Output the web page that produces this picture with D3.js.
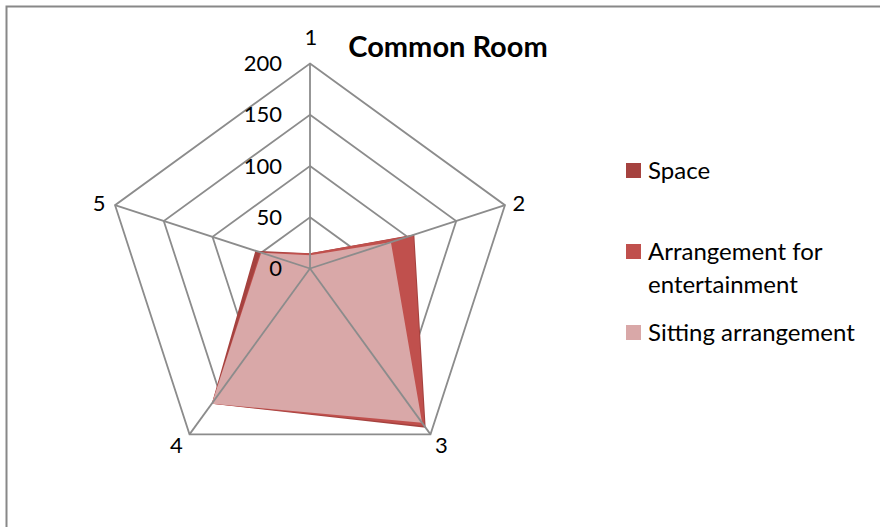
<!DOCTYPE html>
<html><head><meta charset="utf-8">
<script src="https://cdn.jsdelivr.net/npm/d3@7"></script>
<style>body{margin:0;background:#fff}svg{display:block}text{font-family:Lato,"Open Sans",sans-serif}</style>
</head><body><svg id="c" width="880" height="527"></svg>
<script>
const categories = ["1","2","3","4","5"];
const seriesNames = ["Space","Arrangement for entertainment","Sitting arrangement"];
const space = [15, 107, 192, 163, 56];
const entertainment = [15, 106, 190, 163, 51];
const sitting = [13, 83, 186, 163, 50];
const tickValues = [0, 50, 100, 150, 200];
const colors = ["#A5423F", "#C0504D", "#D9A8A8"];

const svg = d3.select("#c");
svg.append("rect").attr("x",6.5).attr("y",6.5).attr("width",900).attr("height",600)
  .attr("fill","#fff").attr("stroke","#888").attr("stroke-width",2);

const cx = 310, cy = 268.5;
const r = d3.scaleLinear().domain([0,200]).range([0,205]);
const ang = d3.scaleLinear().domain([0,categories.length]).range([-Math.PI/2, 1.5*Math.PI]);
const pt = (i,v) => [cx + r(v)*Math.cos(ang(i)), cy + r(v)*Math.sin(ang(i))];

const g = svg.append("g");
const data = [space, entertainment, sitting];
const line = d3.line().curve(d3.curveLinearClosed);

// grid rings (under fills)
tickValues.slice(1).forEach(t => {
  g.append("path").attr("d", line(categories.map((c,i)=>pt(i,t))))
    .attr("fill","none").attr("stroke","#8c8c8c").attr("stroke-width",1.8);
});

data.forEach((s,k) => {
  g.append("path").attr("d", line(s.map((v,i)=>pt(i,v))))
    .attr("fill", colors[k]).attr("stroke","none");
});

// spokes (over fills)
categories.forEach((c,i) => {
  const [x,y] = pt(i,200);
  g.append("line").attr("x1",cx).attr("y1",cy).attr("x2",x).attr("y2",y)
    .attr("stroke","#8c8c8c").attr("stroke-width",1.8);
});

// tick labels
tickValues.forEach(t => {
  g.append("text").attr("x", cx-28).attr("y", cy - r(t)).attr("dy","0.35em")
    .attr("text-anchor","end").attr("font-size",22).attr("fill","#000").text(t);
});

// category labels
const labOff = [[1,-26],[14,-2],[11,11],[-13,11],[-16,-2]];
categories.forEach((c,i) => {
  const [x,y] = pt(i,200);
  const [ox,oy] = labOff[i];
  g.append("text").attr("x",x+ox).attr("y",y+oy).attr("dy","0.35em")
    .attr("text-anchor","middle").attr("font-size",22).attr("fill","#000").text(c);
});

// title
svg.append("text").attr("x",448).attr("y",47).attr("dy","0.35em").attr("text-anchor","middle")
  .attr("font-size",29).attr("font-weight","bold").attr("fill","#000").text("Common Room");

// legend
const leg = [
  {lines:["Space"], y:171},
  {lines:["Arrangement for","entertainment"], y:252},
  {lines:["Sitting arrangement"], y:333}
];
leg.forEach((d,k) => {
  svg.append("rect").attr("x",626).attr("y",d.y-8).attr("width",15).attr("height",15).attr("fill",colors[k]);
  d.lines.forEach((l,j) => {
    svg.append("text").attr("x",648).attr("y",d.y + j*33).attr("dy","0.35em")
      .attr("font-size",24).attr("fill","#000").text(l);
  });
});
</script></body></html>
